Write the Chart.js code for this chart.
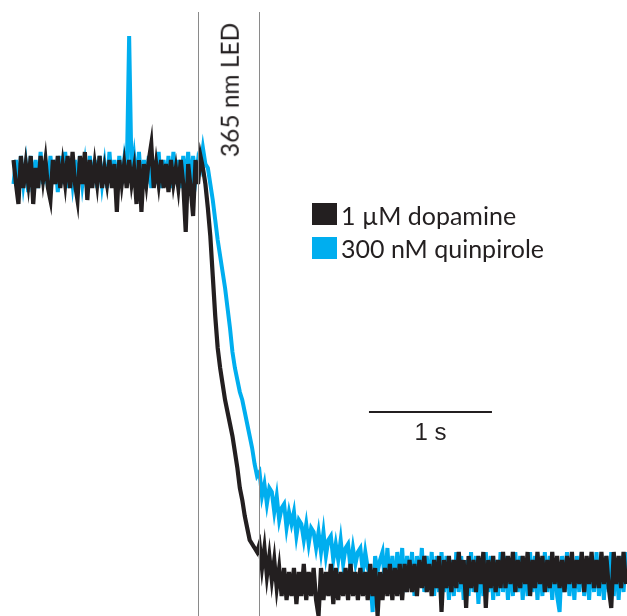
<!DOCTYPE html>
<html>
<head>
<meta charset="utf-8">
<title>Fluorescence response to 365 nm LED</title>
<script src="https://cdn.jsdelivr.net/npm/chart.js@4.4.1/dist/chart.umd.min.js"></script>
<style>
  html, body { margin: 0; padding: 0; background: #fff; }
  #wrap { position: relative; width: 627px; height: 616px; overflow: hidden; }
  #trace { position: absolute; left: 0; top: 0; }
  .lbl { position: absolute; white-space: nowrap; color: #231f20; line-height: 1; }
  .humanist { font-family: Lato, "Open Sans", sans-serif; }
  #led { font-size: 24.5px; }
  .keyText { font-size: 25px; }
  .swatch { position: absolute; width: 25px; height: 22px; }
  #barLabel { font-family: "Liberation Sans", Arial, sans-serif; font-size: 24px; }
</style>
</head>
<body>
<div id="wrap">
  <canvas id="trace" width="627" height="616"></canvas>
  <div id="led" class="lbl humanist">365 nm LED</div>
  <div class="swatch" id="sw0"></div>
  <div class="lbl humanist keyText" id="key0"></div>
  <div class="swatch" id="sw1"></div>
  <div class="lbl humanist keyText" id="key1"></div>
  <div id="barLabel" class="lbl">1 s</div>
</div>
<script>
// Sampling interval of both recordings (s); sample i is at t = i * sampleInterval.
const sampleInterval = 0.02;

// Fluorescence, % of pre-illumination baseline.
const dopamine = [
  103, 97, 92,104, 96,102, 97,104, 92,101, 96,104, 98,103, 96, 93,103, 97,104, 96,102, 97,104, 96,105,
   97, 93,104, 97,105, 93,103, 96,102, 97,104, 96,101, 97,103, 96,102, 90,103, 97,102, 96,103, 97,101,
   92,103, 90,102, 97,103,107, 96,102, 97,103, 96,102, 95,103, 97,101, 96,103, 97, 85,102, 96, 89,103,
   97,104,101, 97, 91, 84, 74, 64, 56, 51, 47, 43, 40, 37, 34, 30, 26, 21, 18, 14, 11,  8,  7,  6,  5,
    7,  1,  6, -1,  4, -2,  3, -4,  1, -6,  1, -7,  0, -6,  1, -8,  0, -6,  2, -7,  0, -6,  1, -7,-11,
    1, -7,  0, -6,  2, -8,  1, -7,  0, -6,  1, -7,  2, -6,  0, -7,  1, -6,  0, -7,  2, -6,  1,-11,  0,
   -7,  1, -6,  2, -7,  1, -6,  2, -7,  2, -5,  3, -5,  2, -6,  3, -4,  4, -5,  2, -6,  3, -4,  4,-10,
    3, -4,  4, -5,  3, -4,  5, -3,  3, -9,  4, -4,  3, -5,  4, -3,  5, -9,  3, -4,  4, -5,  3, -4,  5,
   -4,  4, -3,  5, -5,  3, -4,  4, -3,  5, -6,  3, -4,  5, -3,  4, -5,  3, -4,  5, -3,  4, -4,  3, -5,
    4, -3,  5, -4,  3, -3,  5, -5,  4, -3,  5, -4,  3, -4,  5, -3,  4, -4, -9,  5, -3,  4, -4,  5, -3
];

const quinpirole = [
   97,103, 96,104, 97,102, 95,104, 97,103, 96,105, 97,102, 96,104, 97,103, 95,104, 97,105, 96,103, 97,
  103, 96,104, 97,102, 95,104, 97,103, 96,104, 97,102, 96,105, 97,103, 96,104, 97,103, 98,134, 99,104,
   97,105, 96,103, 97,104, 96,103, 97,105, 96,103, 97,104, 96,105, 97,103, 96,104, 97,105, 96,104, 98,
  103,101,106,102,101, 97, 93, 88, 83, 79, 75, 71, 66, 61, 55, 51, 48, 45, 43, 40, 37, 34, 31, 27, 24,
   25, 19, 22, 17, 21, 20, 15, 19, 13, 16, 17, 11, 15, 12, 15,  9, 13, 12,  8, 12,  7, 11, 10,  6, 10,
    5, 10,  4,  8,  9,  3,  7,  3,  8,  2,  6,  7,  1,  6,  2,  5,  6,  0,  5,  1, -1,-10,  4,  0,  3,
    5, -3,  6, -4,  4, -5,  5, -3,  6, -5,  4, -4,  5, -6,  4, -3,  6, -5,  4, -4,  5, -6,  4, -5,  5,
   -5,  4, -7,  3, -6,  5, -5,  4, -7,  3, -6,  5, -5,  4, -8,  3, -6,  5, -5,  4, -7,  3, -6,  5, -5,
    4, -7,  3, -6,  5, -5,  4, -7,  3, -6,  5, -5,  4, -7,  3, -6,  5, -5,  4, -7,  3, -6,-10,  4, -5,
    5, -6,  3, -7,  4, -5,  5, -6,  3, -7,  4, -5,  5, -6,  3, -7,  4, -5,  5, -6,  3, -7,  4, -5,  5
];

const seriesNames = ['1 µM dopamine', '300 nM quinpirole'];
const seriesColors = ['#231f20', '#00aeef'];

// LED illumination window (s) and the 1 s scale bar.
const ledOn = 1.5;
const ledOff = 2.0;
const scaleBarStart = 2.89;
const scaleBarLength = 1;

function toPoints(values) {
  return values.map((v, i) => ({ x: i * sampleInterval, y: v }));
}

// LED on/off markers and the time scale bar, drawn over the traces.
const markers = {
  id: 'markers',
  afterDatasetsDraw(chart) {
    const { ctx, chartArea, scales: { x, y } } = chart;
    ctx.save();
    ctx.strokeStyle = '#8a8a8a';
    ctx.lineWidth = 1;
    for (const t of [ledOn, ledOff]) {
      const px = Math.floor(x.getPixelForValue(t)) + 0.5;
      ctx.beginPath();
      ctx.moveTo(px, y.getPixelForValue(140));
      ctx.lineTo(px, chartArea.bottom);
      ctx.stroke();
    }
    const yb = Math.round(y.getPixelForValue(40));
    ctx.strokeStyle = '#231f20';
    ctx.lineWidth = 2;
    ctx.beginPath();
    ctx.moveTo(x.getPixelForValue(scaleBarStart), yb);
    ctx.lineTo(x.getPixelForValue(scaleBarStart + scaleBarLength), yb);
    ctx.stroke();
    ctx.restore();
  }
};

const chart = new Chart(document.getElementById('trace'), {
  type: 'line',
  data: {
    datasets: [
      { label: seriesNames[0], data: toPoints(dopamine), borderColor: seriesColors[0], borderWidth: 4.2 },
      { label: seriesNames[1], data: toPoints(quinpirole), borderColor: seriesColors[1], borderWidth: 4 }
    ]
  },
  options: {
    responsive: false,
    animation: false,
    devicePixelRatio: 1,
    parsing: false,
    events: [],
    layout: { padding: 0 },
    elements: {
      point: { radius: 0 },
      line: { tension: 0, fill: false, borderJoinStyle: 'miter' }
    },
    scales: {
      x: { type: 'linear', min: -0.11, max: 4.988, display: false },
      y: { type: 'linear', min: -11, max: 143, display: false }
    },
    plugins: { legend: { display: false }, tooltip: { enabled: false } }
  },
  plugins: [markers]
});

// Text labels placed from the chart's scales.
const xs = chart.scales.x, ys = chart.scales.y;

const led = document.getElementById('led');
led.style.left = (xs.getPixelForValue((ledOn + ledOff) / 2) + 1) + 'px';
led.style.top = '90px';
led.style.transform = 'translate(-50%, -50%) rotate(-90deg)';

const barLabel = document.getElementById('barLabel');
barLabel.style.left = xs.getPixelForValue(scaleBarStart + scaleBarLength / 2) + 'px';
barLabel.style.top = (ys.getPixelForValue(40) + 8) + 'px';
barLabel.style.transform = 'translateX(-50%)';

// Key
const keyRows = [{ swTop: 203, textTop: 203 }, { swTop: 237, textTop: 236 }];
keyRows.forEach((row, i) => {
  const sw = document.getElementById('sw' + i);
  sw.style.left = '312px';
  sw.style.top = row.swTop + 'px';
  sw.style.background = seriesColors[i];
  const txt = document.getElementById('key' + i);
  txt.textContent = seriesNames[i];
  txt.style.left = '341px';
  txt.style.top = row.textTop + 'px';
});
</script>
</body>
</html>
